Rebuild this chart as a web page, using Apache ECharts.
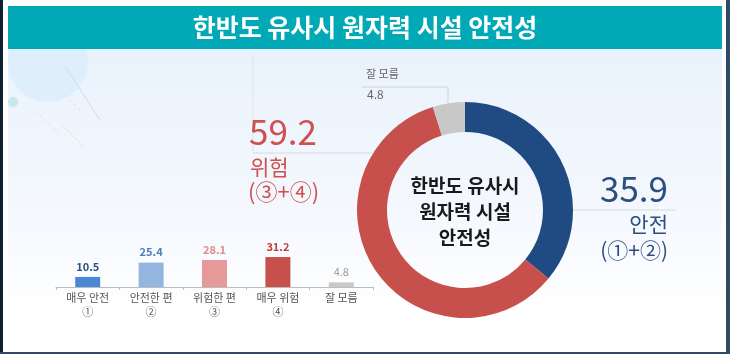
<!DOCTYPE html>
<html>
<head>
<meta charset="utf-8">
<script src="https://cdn.jsdelivr.net/npm/echarts@6/dist/echarts.min.js"></script>
<style>
html,body{margin:0;padding:0;background:#fff;}
#main{width:730px;height:354px;}
</style>
</head>
<body>
<div id="main"></div>
<script>
var font = '"Noto Sans CJK KR","Noto Sans",sans-serif';

// 항목별 응답
var barCats = ['매우 안전\n①', '안전한 편\n②', '위험한 편\n③', '매우 위험\n④', '잘 모름'];
var barVals = [10.5, 25.4, 28.1, 31.2, 4.8];
var barColors = ['#4a88d6', '#95b5e1', '#e59a99', '#c8504c', '#c9c9c9'];
var barLabelColors = ['#2c4f85', '#4a7cc0', '#e08a8a', '#c0403c', '#999999'];

// 합산
var pieNames = ['안전', '위험', '잘 모름'];
var pieVals = [35.9, 59.2, 4.8];
var pieColors = ['#1f4a82', '#c8504c', '#c8c8c8'];

var chart = echarts.init(document.getElementById('main'));

var option = {
    backgroundColor: '#ffffff',
    animation: false,
    textStyle: {fontFamily: font},
    title: {
        text: '한반도 유사시 원자력 시설 안전성',
        left: 'center',
        top: 10,
        textStyle: {color: '#fff', fontSize: 25, fontWeight: 'bold', fontFamily: font}
    },
    graphic: [
        // 테두리, 배경
        {type: 'rect', z: -10, shape: {x: 0, y: 0, width: 3, height: 354}, style: {fill: '#0f2232'}},
        {type: 'rect', z: -10, shape: {x: 726, y: 0, width: 4, height: 354}, style: {fill: '#2f4a63'}},
        {type: 'rect', z: -10, shape: {x: 0, y: 352, width: 730, height: 2}, style: {fill: '#2f4a63'}},
        {type: 'rect', z: -10, shape: {x: 8, y: 49, width: 714, height: 302},
            style: {fill: new echarts.graphic.LinearGradient(0, 0, 0, 1, [
                {offset: 0, color: '#e9f2fc'},
                {offset: 0.6, color: '#f6f9fe'},
                {offset: 0.85, color: '#ffffff'},
                {offset: 1, color: '#ffffff'}
            ])}},
        {type: 'circle', z: -9, shape: {cx: 48, cy: 62, r: 40}, style: {fill: '#d9edf9', opacity: 0.7}},
        {type: 'circle', z: -9, shape: {cx: 13, cy: 102, r: 5}, style: {fill: '#c4e8ee'}},
        {type: 'line', z: -9, shape: {x1: 65, y1: 66, x2: 100, y2: 120}, style: {stroke: '#cfdaef', lineWidth: 1}},
        {type: 'line', z: -9, shape: {x1: 40, y1: 70, x2: 80, y2: 110}, style: {stroke: '#d8e1f1', lineWidth: 1, lineDash: [3, 3]}},
        {type: 'line', z: -9, shape: {x1: 36, y1: 111, x2: 60, y2: 135}, style: {stroke: '#d8e1f1', lineWidth: 1, lineDash: [3, 3]}},
        {type: 'line', z: -9, shape: {x1: 62, y1: 125, x2: 84, y2: 147}, style: {stroke: '#e2eacd', lineWidth: 1}},
        {type: 'rect', z: -1, shape: {x: 8, y: 6, width: 714, height: 43}, style: {fill: '#00a9b5'}},

        // 구분선
        {type: 'line', shape: {x1: 253, y1: 54, x2: 253, y2: 153}, style: {stroke: '#e0e4ea', lineWidth: 1}},
        {type: 'line', shape: {x1: 253, y1: 153, x2: 372, y2: 153}, style: {stroke: '#d8dadd', lineWidth: 1}},
        {type: 'line', shape: {x1: 572, y1: 210, x2: 676, y2: 210}, style: {stroke: '#d8dadd', lineWidth: 1}},
        {type: 'polyline', shape: {points: [[362, 87], [448, 87], [448, 103]]}, style: {stroke: '#cfd2d6', lineWidth: 1, fill: null}},

        // 위험 합산
        {type: 'text', left: 249, top: 114, style: {text: String(pieVals[1]), fill: '#d0504c', font: '35px ' + font}},
        {type: 'text', left: 250, top: 157, style: {text: pieNames[1], fill: '#d0504c', font: '21px ' + font}},
        {type: 'text', left: 248, top: 181, style: {text: '(③+④)', fill: '#d0504c', font: '22px ' + font}},

        // 안전 합산
        {type: 'text', right: 62, top: 171, style: {text: String(pieVals[0]), fill: '#2d4f80', font: '35px ' + font}},
        {type: 'text', right: 62, top: 214, style: {text: pieNames[0], fill: '#2d4f80', font: '21px ' + font}},
        {type: 'text', right: 62, top: 240, style: {text: '(①+②)', fill: '#2d4f80', font: '21px ' + font}},

        // 잘 모름
        {type: 'text', left: 366, top: 68, style: {text: pieNames[2], fill: '#666', font: '11px ' + font}},
        {type: 'text', left: 367, top: 88, style: {text: String(pieVals[2]), fill: '#666', font: '12px ' + font}},

        // 가운데 제목
        {type: 'text', z: 100, x: 465, y: 173, style: {
            text: '한반도 유사시\n원자력 시설\n안전성', fill: '#1a1a1a',
            font: 'bold 19px ' + font, lineHeight: 26, align: 'center', verticalAlign: 'top'
        }}
    ],
    grid: {left: 56, right: 357, top: 239, bottom: 67},
    xAxis: {
        type: 'category',
        data: barCats,
        axisLine: {lineStyle: {color: '#bdbdbd'}},
        axisTick: {show: true, length: 3, lineStyle: {color: '#bdbdbd'}},
        axisLabel: {color: '#555', fontSize: 11, lineHeight: 14, margin: 4, fontFamily: font}
    },
    yAxis: {
        type: 'value', min: 0, max: 50, show: false, splitLine: {show: false}
    },
    series: [
        {
            type: 'bar',
            barWidth: 25,
            data: barVals.map(function (v, i) {
                return {
                    value: v,
                    itemStyle: {color: barColors[i]},
                    label: {color: barLabelColors[i], fontWeight: i === 4 ? 'normal' : 'bold'}
                };
            }),
            label: {show: true, position: 'top', distance: 5, fontSize: 11, fontFamily: font}
        },
        {
            type: 'pie',
            center: [465, 210],
            radius: [78, 108],
            startAngle: 90,
            clockwise: true,
            label: {show: false},
            labelLine: {show: false},
            emphasis: {disabled: true},
            data: pieVals.map(function (v, i) {
                return {name: pieNames[i], value: v, itemStyle: {color: pieColors[i]}};
            })
        }
    ]
};

chart.setOption(option);
</script>
</body>
</html>
